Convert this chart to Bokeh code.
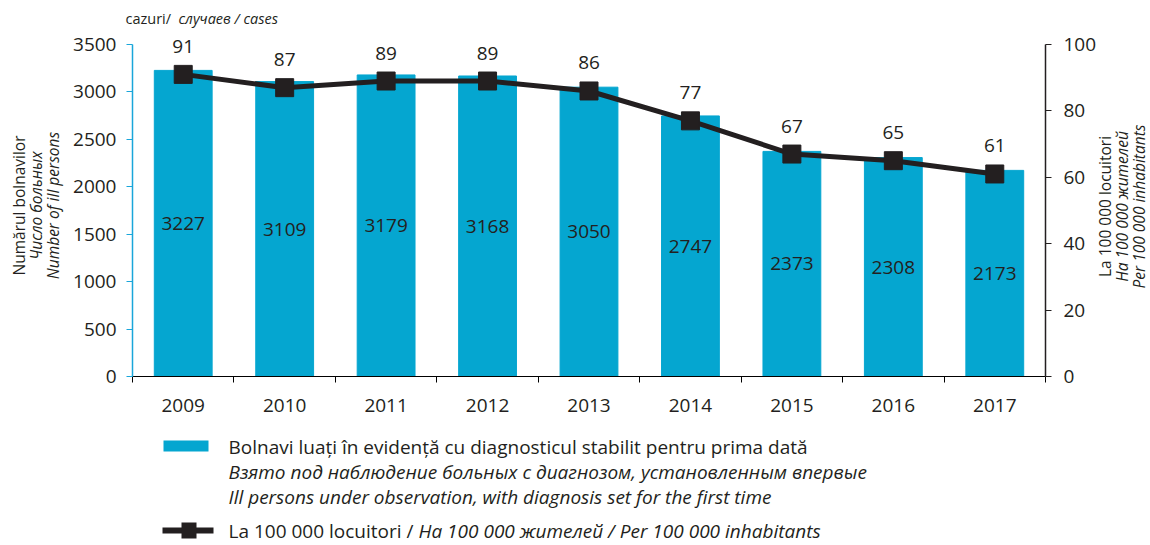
import math
from bokeh.plotting import figure
from bokeh.models import (ColumnDataSource, Range1d, LinearAxis, FixedTicker, Label,
                          BoxAnnotation)
from bokeh.embed import file_html
from bokeh.resources import INLINE
from bokeh.core.properties import value

# ---- data ----
years = ["2009", "2010", "2011", "2012", "2013", "2014", "2015", "2016", "2017"]
cases = [3227, 3109, 3179, 3168, 3050, 2747, 2373, 2308, 2173]
rate = [91, 87, 89, 89, 86, 77, 67, 65, 61]
left_ticks = [0, 500, 1000, 1500, 2000, 2500, 3000, 3500]
right_ticks = [0, 20, 40, 60, 80, 100]

FONT = "Open Sans"
TXT = "#231F20"
BAR = "#05A6D0"
AXBLUE = "#1AA6DA"

W = 1150
H = 543

# layout: page pixel positions of the plotting area
X_L, X_R = 132, 1045      # x = -0.5 .. 8.5
Y_T, Y_B = 44, 376        # y = max .. 0
n = len(years)
ppx = (X_R - X_L) / n
LMAX, RMAX = 3500, 100
ppy = (Y_B - Y_T) / LMAX

x_range = Range1d(-0.5 - X_L / ppx, n - 0.5 + (W - X_R) / ppx)
y_range = Range1d(-(H - Y_B) / ppy, LMAX + Y_T / ppy)
r_scale = RMAX / LMAX

idx = list(range(n))
src = ColumnDataSource(dict(
    x=idx, cases=cases, mid=[c / 2 for c in cases], rate=rate,
    clab=[str(c) for c in cases], rlab=[str(r) for r in rate],
))

p = figure(width=W, height=H, output_backend="svg", toolbar_location=None,
           x_range=x_range, y_range=y_range, min_border=0,
           x_axis_type=None, y_axis_type=None)
p.outline_line_color = None
p.grid.visible = False
p.background_fill_color = "white"
p.extra_y_ranges = {"rate": Range1d(y_range.start * r_scale, y_range.end * r_scale)}

p.vbar(x="x", top="cases", width=0.57, color=BAR, source=src)
p.line(x="x", y="rate", y_range_name="rate", line_color=TXT, line_width=5, source=src)
p.scatter(x="x", y="rate", y_range_name="rate", marker="square", size=18,
          fill_color=TXT, line_color=TXT, source=src)

p.text(x="x", y="mid", text="clab", source=src, text_align="center",
       text_baseline="middle", text_font=value(FONT), text_font_size="19px",
       text_color=TXT)
p.text(x="x", y="rate", text="rlab", source=src, y_range_name="rate",
       text_align="center", text_baseline="middle", y_offset=-28,
       text_font=value(FONT), text_font_size="19px", text_color=TXT)

# axes (fixed inside the canvas-wide frame)
xb = LinearAxis(ticker=FixedTicker(ticks=idx, minor_ticks=[i - 0.5 for i in range(n + 1)]),
                major_label_overrides={i: y for i, y in enumerate(years)},
                fixed_location=0, bounds=(-0.5, n - 0.5))
xb.axis_line_color = "black"
xb.axis_line_width = 1.2
xb.major_tick_out = 0
xb.major_tick_in = 0
xb.minor_tick_out = 6
xb.minor_tick_in = 0
xb.minor_tick_line_color = "black"
xb.major_label_standoff = 16
xb.major_label_text_font = FONT
xb.major_label_text_font_size = "19px"
xb.major_label_text_color = TXT
p.add_layout(xb, "below")

yl = LinearAxis(ticker=FixedTicker(ticks=left_ticks), fixed_location=-0.5, bounds=(0, LMAX))
yl.axis_line_color = AXBLUE
yl.axis_line_width = 1.5
yl.major_tick_line_color = AXBLUE
yl.major_tick_out = 6
yl.major_tick_in = 0
yl.minor_tick_line_color = None
yl.major_label_standoff = 10
yl.major_label_text_font = FONT
yl.major_label_text_font_size = "19px"
yl.major_label_text_color = TXT
p.add_layout(yl, "left")

yr = LinearAxis(y_range_name="rate", ticker=FixedTicker(ticks=right_ticks),
                fixed_location=n - 0.5, bounds=(0, RMAX))
yr.axis_line_color = TXT
yr.axis_line_width = 1.5
yr.major_tick_line_color = TXT
yr.major_tick_out = 6
yr.major_tick_in = 0
yr.minor_tick_line_color = None
yr.major_label_standoff = 12
yr.major_label_text_font = FONT
yr.major_label_text_font_size = "19px"
yr.major_label_text_color = TXT
p.add_layout(yr, "right")

# texts in canvas units (y from top)
def lab(text, px, py, size="13px", style="normal", angle=0.0, align="center"):
    p.add_layout(Label(x=px, y=py, x_units="canvas", y_units="canvas",
                       text=text, text_font=FONT, text_font_size=size,
                       text_font_style=style, text_color=TXT, angle=angle,
                       text_align=align, text_baseline="middle"))

lab("cazuri/", 125, 18, size="14.5px", align="left")
lab("случаев / cases", 178, 18, size="14.5px", style="italic", align="left")

TF = "15.5px"
lab("Numărul bolnavilor", 18, 205, size=TF, angle=math.pi / 2)
lab("Число больных", 35, 205, size=TF, style="italic", angle=math.pi / 2)
lab("Number of ill persons", 52, 205, size=TF, style="italic", angle=math.pi / 2)

lab("La 100 000 locuitori", 1104, 206, size=TF, angle=math.pi / 2)
lab("На 100 000 жителей", 1121, 206, size=TF, style="italic", angle=math.pi / 2)
lab("Per 100 000 inhabitants", 1138, 206, size=TF, style="italic", angle=math.pi / 2)

# legend
def box(l, r, t, b, color):
    p.add_layout(BoxAnnotation(left=l, right=r, top=t, bottom=b,
                               left_units="canvas", right_units="canvas",
                               top_units="canvas", bottom_units="canvas",
                               fill_color=color, fill_alpha=1.0, line_color=None,
                               level="overlay"))

LY = 530
box(163, 208, 440, 451, BAR)
box(162, 213, LY - 3, LY + 3, TXT)
box(181, 196, LY - 8, LY + 8, TXT)

LEGF = "19px"
lab("Bolnavi luați în evidență cu diagnosticul stabilit pentru prima dată", 228, 446, size=LEGF, align="left")
lab("Взято под наблюдение больных с диагнозом, установленным впервые", 228, 471, size=LEGF, style="italic", align="left")
lab("Ill persons under observation, with diagnosis set for the first time", 228, 496, size=LEGF, style="italic", align="left")
lab("La 100 000 locuitori /", 228, LY, size=LEGF, align="left")
lab("На 100 000 жителей / Per 100 000 inhabitants", 418, LY, size=LEGF, style="italic", align="left")

open("out.html", "w").write(file_html(p, INLINE))
